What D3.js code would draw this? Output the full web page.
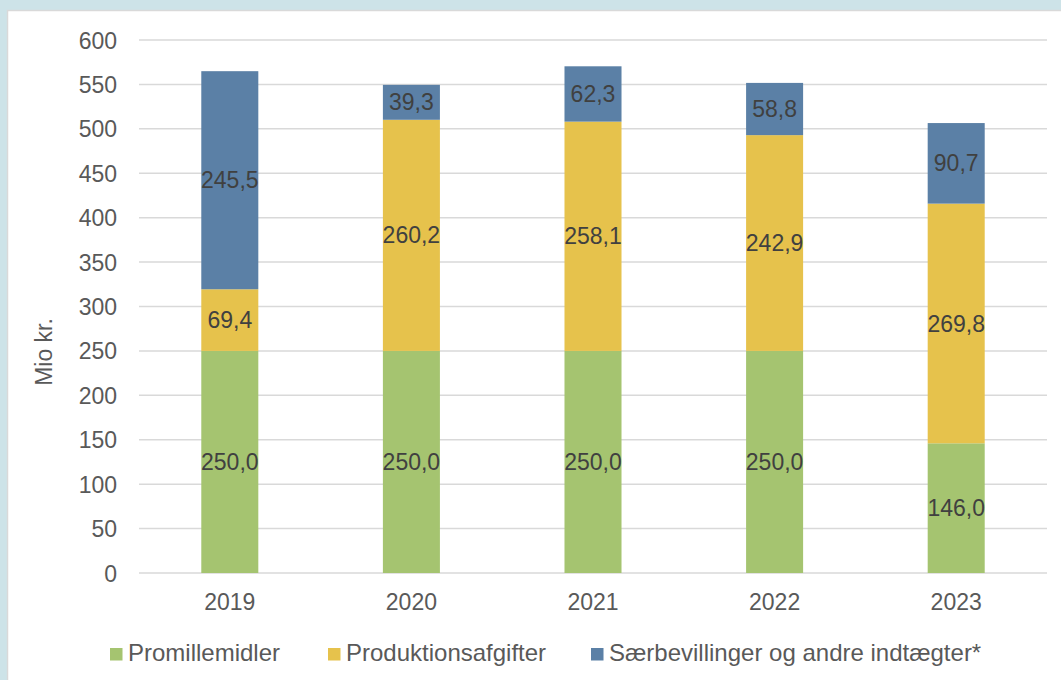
<!DOCTYPE html>
<html>
<head>
<meta charset="utf-8">
<script src="https://d3js.org/d3.v7.min.js"></script>
<style>
  body { margin: 0; background: #cde3e8; }
  * { font-family: "Liberation Sans", Arial, sans-serif; }
  .tick text { fill: #595959; font-size: 23px; }
  .label { fill: #404040; font-size: 23px; text-anchor: middle; }
  .legend text { fill: #595959; font-size: 24px; }
</style>
</head>
<body>
<script>
  // data
  var years = ["2019", "2020", "2021", "2022", "2023"];
  var promillemidler = [250.0, 250.0, 250.0, 250.0, 146.0];
  var produktionsafgifter = [69.4, 260.2, 258.1, 242.9, 269.8];
  var saerbevillinger = [245.5, 39.3, 62.3, 58.8, 90.7];
  var seriesNames = ["Promillemidler", "Produktionsafgifter", "Særbevillinger og andre indtægter*"];
  var yTicks = [0, 50, 100, 150, 200, 250, 300, 350, 400, 450, 500, 550, 600];

  var colors = ["#a5c470", "#e6c24c", "#5b80a6"];
  var W = 1061, H = 680;
  var margin = {top: 40, right: 14, bottom: 107, left: 139};
  var width = W - margin.left - margin.right,
      height = H - margin.top - margin.bottom;

  var svg = d3.select("body").append("svg")
    .attr("width", W).attr("height", H);

  // white panel
  svg.append("rect")
    .attr("x", 7.5).attr("y", 10.5)
    .attr("width", W).attr("height", H)
    .attr("fill", "#fff").attr("stroke", "#d9d9d9").attr("stroke-width", 1.5);

  var g = svg.append("g")
    .attr("transform", "translate(" + margin.left + "," + margin.top + ")");

  var table = years.map(function(y, i) {
    return {year: y, s0: promillemidler[i], s1: produktionsafgifter[i], s2: saerbevillinger[i]};
  });
  var stack = d3.stack().keys(["s0", "s1", "s2"])(table);

  var x = d3.scaleBand().domain(years).range([0, width]).paddingInner(0.686).paddingOuter(0.343);
  var y = d3.scaleLinear().domain([0, 600]).range([height, 0]);

  // grid
  g.append("g")
    .selectAll("line").data(yTicks).enter().append("line")
    .attr("x1", 0).attr("x2", width)
    .attr("y1", function(d) { return y(d); }).attr("y2", function(d) { return y(d); })
    .attr("stroke", "#d9d9d9").attr("stroke-width", 1.5);

  var yAxis = g.append("g")
    .call(d3.axisLeft(y).tickValues(yTicks).tickSize(0).tickPadding(22));
  yAxis.select(".domain").remove();
  yAxis.selectAll("text").attr("dy", "0.35em");

  var xAxis = g.append("g")
    .attr("transform", "translate(0," + height + ")")
    .call(d3.axisBottom(x).tickSize(0).tickPadding(21));
  xAxis.select(".domain").remove();

  stack.forEach(function(layer, k) {
    g.append("g").selectAll("rect").data(layer).enter().append("rect")
      .attr("x", function(d) { return x(d.data.year); })
      .attr("width", x.bandwidth())
      .attr("y", function(d) { return y(d[1]); })
      .attr("height", function(d) { return y(d[0]) - y(d[1]); })
      .attr("fill", colors[k]);
  });

  stack.forEach(function(layer, k) {
    g.append("g").selectAll("text").data(layer).enter().append("text")
      .attr("class", "label")
      .attr("x", function(d) { return x(d.data.year) + x.bandwidth() / 2; })
      .attr("y", function(d) { return y((d[0] + d[1]) / 2); })
      .attr("dy", "0.35em")
      .text(function(d) { return (d[1] - d[0]).toFixed(1).replace(".", ","); });
  });

  // y axis title
  svg.append("text")
    .attr("transform", "translate(52,352) rotate(-90)")
    .attr("text-anchor", "middle")
    .attr("fill", "#595959").attr("font-size", "23px")
    .text("Mio kr.");

  // legend
  var legendX = [110, 328, 591];
  var legend = svg.append("g").attr("class", "legend");
  seriesNames.forEach(function(name, i) {
    legend.append("rect")
      .attr("x", legendX[i]).attr("y", 648)
      .attr("width", 12.5).attr("height", 12.5)
      .attr("fill", colors[i]);
    legend.append("text")
      .attr("x", legendX[i] + 18).attr("y", 661)
      .text(name);
  });
</script>
</body>
</html>
